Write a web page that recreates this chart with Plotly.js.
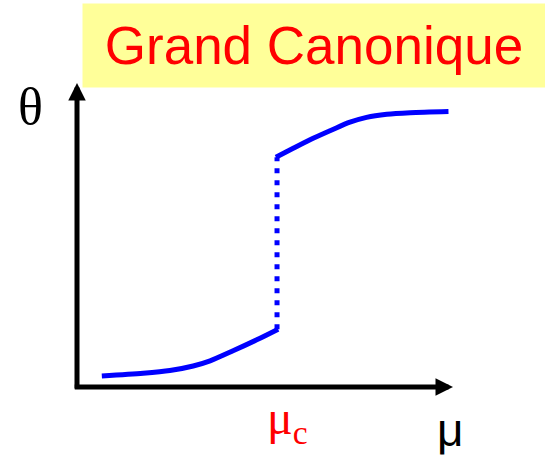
<!DOCTYPE html>
<html>
<head>
<meta charset="utf-8">
<script src="https://cdn.plot.ly/plotly-3.0.1.min.js"></script>
<style>
  html, body { margin: 0; padding: 0; background: #fff; }
  #plot { width: 545px; height: 455px; }
</style>
</head>
<body>
<div id="plot"></div>
<script>
// Grand canonical isotherm: coverage theta vs chemical potential mu (arbitrary units)
let muLow = [0.066, 0.176, 0.247, 0.309, 0.354, 0.415, 0.478, 0.535];
let thetaLow = [0.036, 0.045, 0.054, 0.069, 0.086, 0.119, 0.155, 0.190];

let muHigh = [0.529, 0.575, 0.628, 0.682, 0.726, 0.770, 0.824, 0.886, 0.988];
let thetaHigh = [0.756, 0.785, 0.818, 0.848, 0.871, 0.887, 0.897, 0.902, 0.906];

// jump at mu_c
let muJump = [0.532, 0.532];
let thetaJump = [0.190, 0.756];

let titleText = 'Grand Canonique';
let yLabel = 'θ';
let xLabel = 'μ';
let critLabel = 'μ<sub>c</sub>';

let blue = '#0000FF';

let traceLow = {
    x: muLow, y: thetaLow,
    mode: 'lines',
    line: { color: blue, width: 5, shape: 'spline', smoothing: 0.8 },
    hoverinfo: 'skip'
};
let traceHigh = {
    x: muHigh, y: thetaHigh,
    mode: 'lines',
    line: { color: blue, width: 5, shape: 'spline', smoothing: 0.8 },
    hoverinfo: 'skip'
};
let traceJump = {
    x: muJump, y: thetaJump,
    mode: 'lines',
    line: { color: blue, width: 5, dash: '5px,7px' },
    hoverinfo: 'skip'
};

// axis arrows drawn as annotations from the origin
let arrowStyle = {
    xref: 'x', yref: 'y', axref: 'x', ayref: 'y',
    showarrow: true, arrowhead: 2, arrowsize: 0.7, arrowwidth: 5,
    arrowcolor: '#000', text: ''
};

let layout = {
    width: 545, height: 455,
    margin: { l: 0, r: 0, t: 0, b: 0 },
    paper_bgcolor: '#fff', plot_bgcolor: '#fff',
    showlegend: false,
    xaxis: { range: [-0.2048, 1.2447], visible: false, fixedrange: true },
    yaxis: { range: [-0.2237, 1.2730], visible: false, fixedrange: true },
    annotations: [
        Object.assign({ x: 0, y: 1.0, ax: 0, ay: -0.01 }, arrowStyle),
        Object.assign({ x: 1.0, y: 0, ax: -0.01, ay: 0 }, arrowStyle),
        {
            xref: 'paper', yref: 'paper', x: 314 / 545, y: 1 - 45.5 / 455,
            xanchor: 'center', yanchor: 'middle',
            width: 462, height: 83, borderpad: 0,
            bgcolor: '#FFFF99', showarrow: false,
            text: titleText,
            font: { family: 'Liberation Sans, Arial, sans-serif', size: 53, color: '#FF0000' }
        },
        {
            xref: 'paper', yref: 'paper', x: 30 / 545, y: 1 - 106 / 455,
            xanchor: 'center', yanchor: 'middle', showarrow: false,
            text: yLabel,
            font: { family: 'Liberation Serif, Times New Roman, serif', size: 52, color: '#000' }
        },
        {
            xref: 'paper', yref: 'paper', x: 450 / 545, y: 1 - 430 / 455,
            xanchor: 'center', yanchor: 'middle', showarrow: false,
            text: xLabel,
            font: { family: 'Liberation Sans, Arial, sans-serif', size: 46, color: '#000' }
        },
        {
            xref: 'paper', yref: 'paper', x: 287 / 545, y: 1 - 421 / 455,
            xanchor: 'center', yanchor: 'middle', showarrow: false,
            text: critLabel,
            font: { family: 'Liberation Serif, Times New Roman, serif', size: 48, color: '#FF0000' }
        }
    ]
};

Plotly.newPlot('plot', [traceLow, traceJump, traceHigh], layout, { staticPlot: true, displayModeBar: false });
</script>
</body>
</html>
